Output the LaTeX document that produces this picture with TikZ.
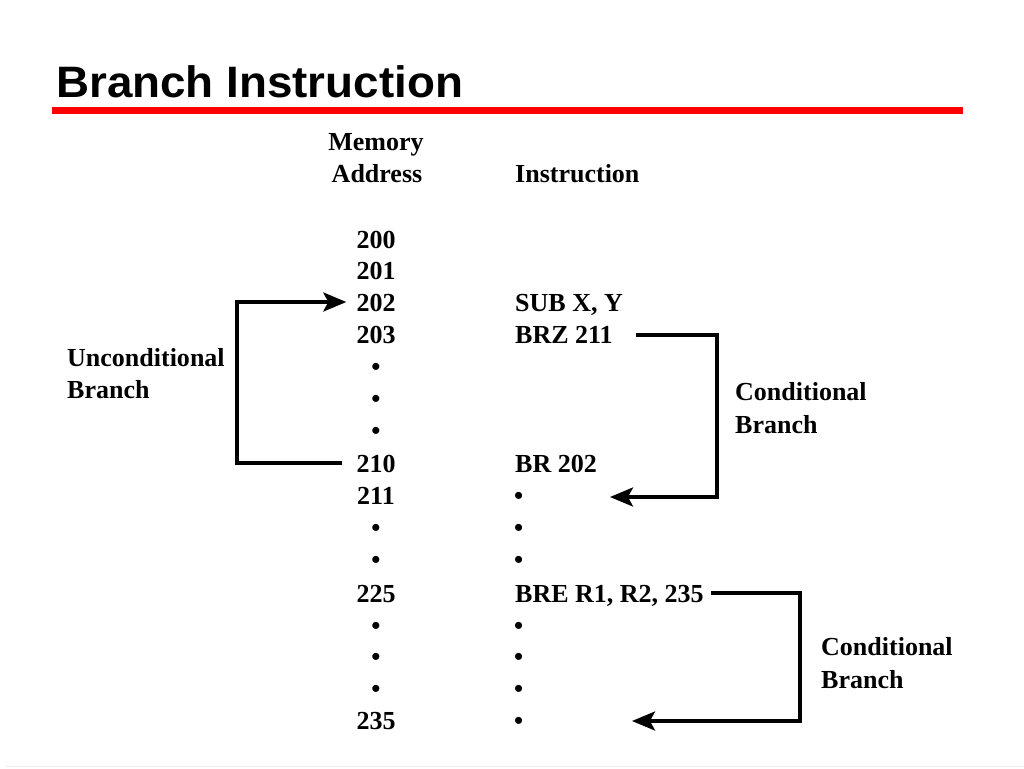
\documentclass[tikz,border=0pt]{standalone}
\usepackage{fontspec}
\setmainfont{Liberation Serif}
\newfontfamily\titlefont{Liberation Sans}
\usetikzlibrary{arrows.meta}
\begin{document}
\begin{tikzpicture}[x=1pt,y=-1pt,
  txt/.style={inner sep=0pt,font=\fontsize{26}{28}\selectfont\bfseries},
  addr/.style={txt,anchor=base},
  ins/.style={txt,anchor=base west},
  lbl/.style={txt,anchor=base west},
  conn/.style={line width=3.2pt},
  arr/.style={conn,-{Stealth[length=23pt,width=19pt,inset=5pt]}}]
\useasboundingbox (0,0) rectangle (1024,768);
\fill[white] (0,0) rectangle (1024,768);
% title
\node[anchor=base west,inner sep=0pt,xscale=1.04,font=\fontsize{44}{46}\titlefont\bfseries] (title) at (56,97) {Branch Instruction};
\fill[red] (52,107) rectangle (963,114);
\draw[gray!12,line width=1pt] (5,766) -- (1024,766);
% headers
\node[addr] (hmem) at (376,150) {Memory};
\node[addr] (hadd) at (377,182) {Address};
\node[ins] (hins) at (515,182) {Instruction};
% addresses
\node[addr] (a200) at (376,248) {200};
\node[addr] (a201) at (376,279) {201};
\node[addr] (a202) at (376,311) {202};
\node[addr] (a203) at (376,343) {203};
\node[addr] (d1) at (376,375) {\textbullet};
\node[addr] (d2) at (376,407) {\textbullet};
\node[addr] (d3) at (376,439) {\textbullet};
\node[addr] (a210) at (376,472) {210};
\node[addr] (a211) at (376,504) {211};
\node[addr] (d4) at (376,536) {\textbullet};
\node[addr] (d5) at (376,568) {\textbullet};
\node[addr] (a225) at (376,602) {225};
\node[addr] (d6) at (376,634) {\textbullet};
\node[addr] (d7) at (376,665) {\textbullet};
\node[addr] (d8) at (376,697) {\textbullet};
\node[addr] (a235) at (376,729) {235};
% instructions
\node[ins] (isub) at (515,311) {SUB X, Y};
\node[ins] (ibrz) at (515,343) {BRZ 211};
\node[ins] (ibr) at (515,472) {BR 202};
\node[ins] (i211) at (514,504) {\textbullet};
\node[ins] (e1) at (514,536) {\textbullet};
\node[ins] (e2) at (514,568) {\textbullet};
\node[ins] (ibre) at (515,602) {BRE R1, R2, 235};
\node[ins] (e3) at (514,634) {\textbullet};
\node[ins] (e4) at (514,665) {\textbullet};
\node[ins] (e5) at (514,697) {\textbullet};
\node[ins] (i235) at (514,729) {\textbullet};
% labels
\node[lbl] (lu1) at (67,366) {Unconditional};
\node[lbl] (lu2) at (67,398) {Branch};
\node[lbl] (lc1) at (735,400) {Conditional};
\node[lbl] (lc2) at (735,433) {Branch};
\node[lbl] (ld1) at (821,655) {Conditional};
\node[lbl] (ld2) at (821,688) {Branch};
% connectors
\coordinate (uc) at (237,463);
\coordinate (c1) at (717,335);
\coordinate (t1) at (610,497);
\coordinate (c2) at (800,593);
\coordinate (t2) at (632,721);
\draw[arr] ([xshift=-14pt]a210.west |- 0,463) -- (uc) |- ([xshift=-10pt]a202.west |- 0,302);
\draw[arr] ([xshift=23pt]ibrz.east |- 0,335) -- (c1) |- (t1);
\draw[arr] ([xshift=7pt]ibre.east |- 0,593) -- (c2) |- (t2);
\end{tikzpicture}
\end{document}
